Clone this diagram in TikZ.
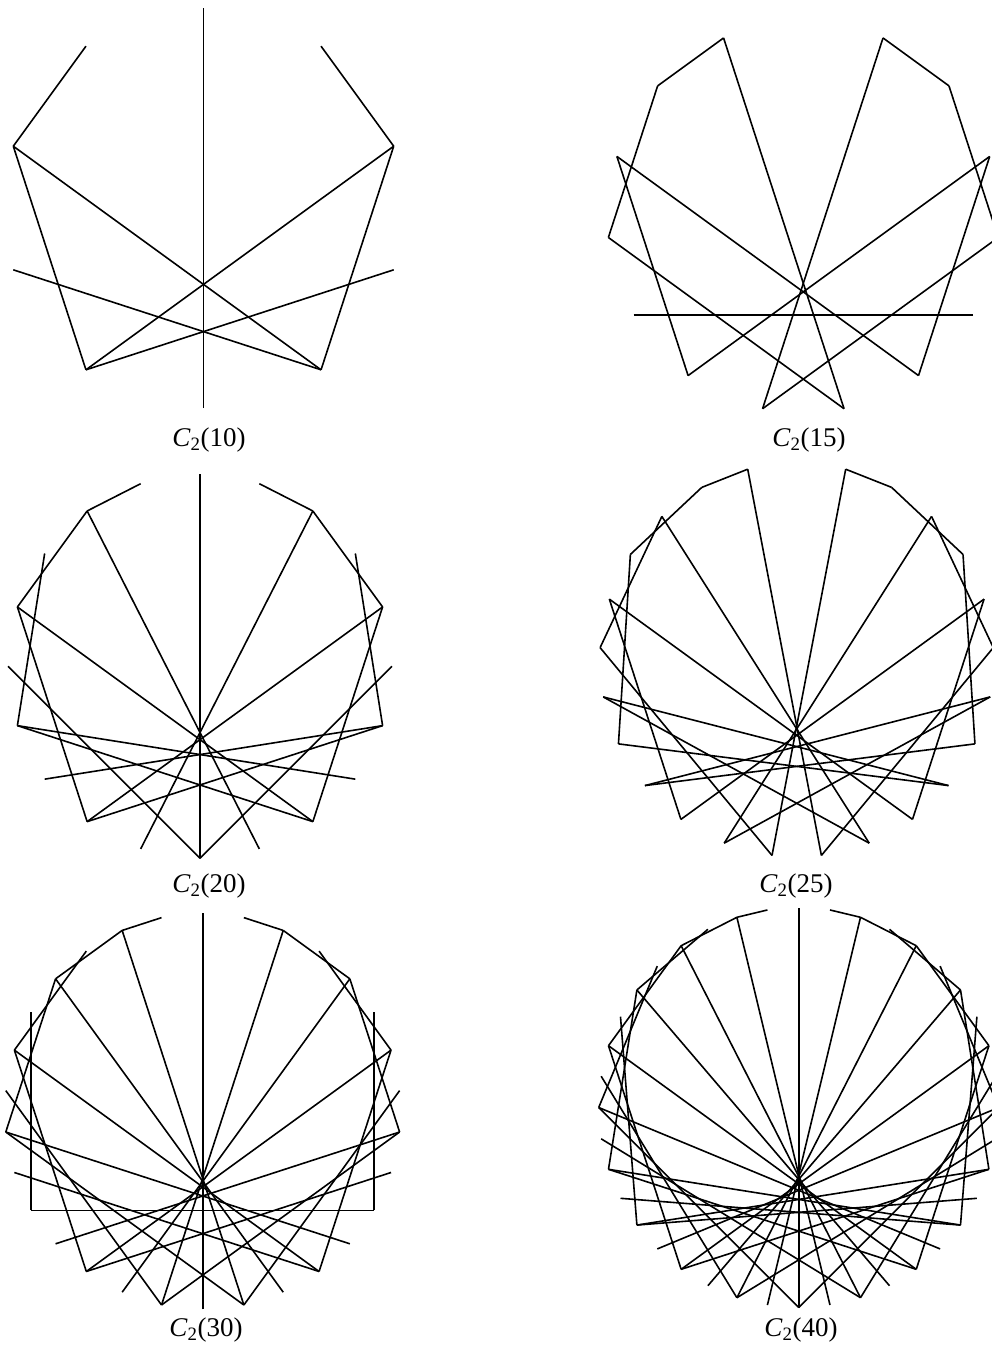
\documentclass[tikz,border=0pt]{standalone}
\usepackage{fontspec}
\setmainfont{Liberation Serif}
\usepackage{tikz}
\usetikzlibrary{calc}
\tikzset{
  chord/.style={line width=1.6pt, black},
  lbl/.style={font=\fontsize{27}{32}\selectfont, inner sep=0pt, anchor=center}
}

\begin{document}
\begin{tikzpicture}[x=1pt,y=1pt]
  \useasboundingbox (0,-1358) rectangle (992,0);
  % n / centre x / centre y / radius / label x / label y (picture pixels)
  \foreach \n/\cx/\cy/\R/\lx/\ly in {10/203.5/208/200/209/440, 15/803.3/217/196/809/440,
      20/200/666.3/192/209/886, 25/796.7/660/197/796/886,
      30/202.7/1111.3/198/206/1330, 40/798.7/1107.5/200/801/1330} {
    \begin{scope}[shift={(\cx,-\cy)}]
      \pgfmathtruncatemacro\last{\n-1}
      \foreach \k in {0,...,\last}
        \coordinate (p\k) at ({90-360*\k/\n}:\R);
      % chord from point k to point 2k mod n
      \foreach \k in {1,...,\last} {
        \pgfmathtruncatemacro\j{mod(2*\k,\n)}
        \draw[chord] (p\k) -- (p\j);
      }
    \end{scope}
    \node[lbl] (lbl\n) at (\lx,-\ly) {\textit{C}\textsubscript{2}(\n)};
  }
\end{tikzpicture}
\end{document}
